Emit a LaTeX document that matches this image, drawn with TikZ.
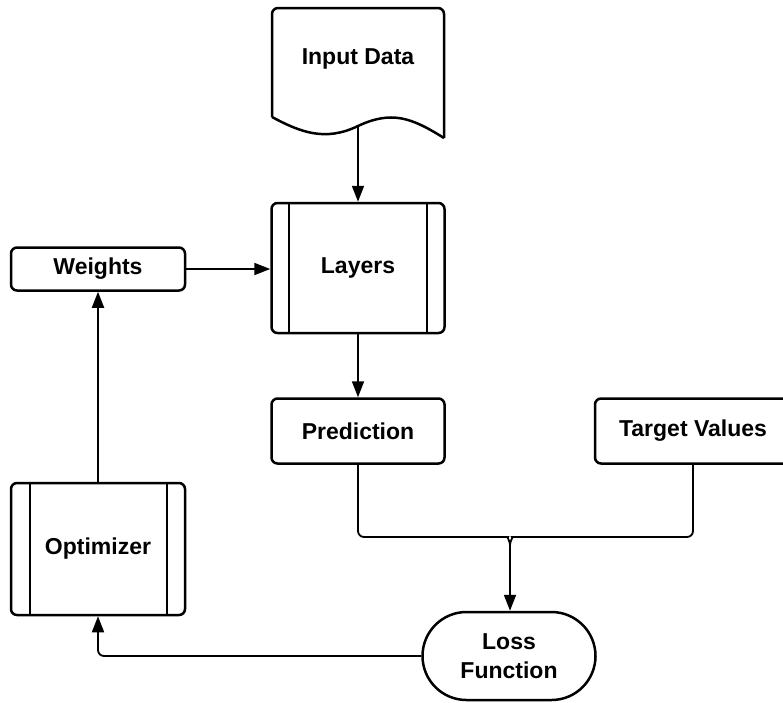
\documentclass[tikz,border=0pt]{standalone}
\usepackage{fontspec}
\setmainfont{Liberation Sans}
\usetikzlibrary{arrows.meta,calc}
\begin{document}
\begin{tikzpicture}[x=1pt,y=-1pt,
  lbl/.style={font=\fontsize{23}{27}\selectfont\bfseries, align=center, inner sep=0},
  box/.style={draw, line width=2.5pt, rounded corners=6pt, lbl},
  conn/.style={line width=1.8pt},
  arr/.style={conn, -{Triangle[length=16pt,width=12pt]}}]
\useasboundingbox (0,0) rectangle (783,702);
\clip (0,0) rectangle (783,702);
% Input Data (document shape)
\draw[line width=2.5pt, rounded corners=6pt] (272,117) -- (272,8) -- (444,8) -- (444,138);
\draw[line width=2.5pt] (444,138) .. controls (412,118) and (392,110) .. (358,126)
  .. controls (325,142) and (300,132) .. (272,117);
\node[lbl] (inp) at (358,59) {Input Data};
\coordinate (inpb) at (358,126);
% Layers
\node[box, minimum width=173pt, minimum height=130pt] (lay) at (358,268) {Layers};
\draw[line width=2.5pt] (289,203) -- (289,333) (427,203) -- (427,333);
% Weights
\node[box, minimum width=174pt, minimum height=43pt] (wts) at (98,269) {Weights};
% Prediction
\node[box, minimum width=173pt, minimum height=65pt] (pred) at (358,431) {Prediction};
% Target Values
\node[box, minimum width=196pt, minimum height=65pt] (tgt) at (693,431) {Target Values};
% Optimizer
\node[box, minimum width=174pt, minimum height=132pt] (opt) at (98,549) {Optimizer};
\draw[line width=2.5pt] (30,483) -- (30,615) (167,483) -- (167,615);
% Loss Function
\node[draw, line width=2.5pt, rounded corners=44pt, lbl, minimum width=173pt, minimum height=88pt] (loss) at (509,656) {Loss\\[2pt]Function};
% connectors
\coordinate (j) at (510,537);
\draw[arr] (inpb) -- (lay.north);
\draw[arr] (wts.east) -- (wts.east -| lay.west);
\draw[arr] (lay.south) -- (pred.north);
\draw[conn, rounded corners=6pt] (pred.south) |- ($(j)+(-8,0)$) to[out=0,in=90] ($(j)+(0,8)$);
\draw[conn, rounded corners=6pt] (tgt.south) |- ($(j)+(8,0)$) to[out=180,in=90] ($(j)+(0,8)$);
\draw[arr] ($(j)+(0,7)$) -- (loss.north -| j);
\draw[arr, rounded corners=6pt] (loss.west) -| (opt.south);
\draw[arr] (opt.north) -- (wts.south);
\end{tikzpicture}
\end{document}
